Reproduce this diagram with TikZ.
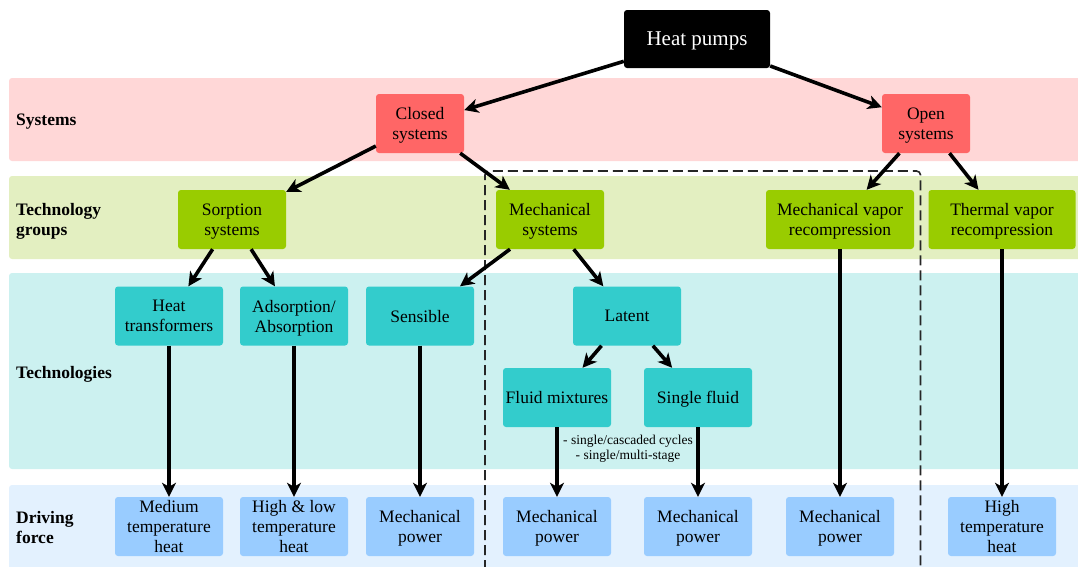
\documentclass[tikz,border=0pt]{standalone}
\usepackage{fontspec}
\setmainfont{Liberation Serif}
\usepackage{tikz}
\usetikzlibrary{arrows.meta}

\definecolor{sysred}{HTML}{FF6666}
\definecolor{grpgreen}{HTML}{99CC00}
\definecolor{techcyan}{HTML}{33CCCC}
\definecolor{forceblue}{HTML}{99CCFF}
\definecolor{sysband}{HTML}{FFD7D7}
\definecolor{grpband}{HTML}{E3EFC1}
\definecolor{techband}{HTML}{CCF1F0}
\definecolor{forceband}{HTML}{E3F1FE}

\tikzset{
  box/.style={rounded corners=3pt, minimum width=108pt, minimum height=59pt,
    align=center, inner sep=2pt, text depth=0pt, font=\fontsize{17.5}{20}\selectfont},
  sysbox/.style={box, fill=sysred, minimum width=88pt},
  grpbox/.style={box, fill=grpgreen},
  techbox/.style={box, fill=techcyan},
  forcebox/.style={box, fill=forceblue},
  rowlabel/.style={anchor=west, align=left, inner sep=0pt, text depth=0pt,
    font=\fontsize{17.5}{20}\selectfont\bfseries},
  arr/.style={-{Stealth[length=14pt,width=14pt,inset=4pt]}, line width=3.6pt},
}

\begin{document}
\begin{tikzpicture}[x=1pt, y=-1pt]
  \useasboundingbox (0,0) rectangle (1078,566);
  % bands
  \fill[sysband, rounded corners=3pt] (9,78) rectangle (1085,161);
  \fill[grpband, rounded corners=3pt] (9,176) rectangle (1085,259);
  \fill[techband, rounded corners=3pt] (9,273) rectangle (1085,469);
  \fill[forceband, rounded corners=3pt] (9,485) rectangle (1085,572);

  \node[rowlabel] (lsys) at (16,120) {Systems};
  \node[rowlabel] (lgrp) at (16,219) {Technology\\groups};
  \node[rowlabel] (ltech) at (16,372) {Technologies};
  \node[rowlabel] (lforce) at (16,527.5) {Driving\\force};

  % mechanical frame
  \draw[black!85, line width=1.6pt, dash pattern=on 10pt off 5pt, rounded corners=4pt]
    (485,570) -- (485,171) -- (920.5,171) -- (920.5,570);

  \node[box, fill=black, text=white, minimum width=146pt, minimum height=58pt,
    font=\fontsize{21}{24}\selectfont] (hp) at (697,39) {Heat pumps};

  \node[sysbox] (closed) at (420,123.5) {Closed\\systems};
  \node[sysbox] (open) at (926,123.5) {Open\\systems};

  \node[grpbox] (sorp) at (232,219.5) {Sorption\\systems};
  \node[grpbox] (mech) at (550,219.5) {Mechanical\\systems};
  \node[grpbox, minimum width=148pt] (mvr) at (840,219.5) {Mechanical vapor\\recompression};
  \node[grpbox, minimum width=147pt] (tvr) at (1002,219.5) {Thermal vapor\\recompression};

  \node[techbox] (ht) at (169,316) {Heat\\transformers};
  \node[techbox] (ads) at (294,316) {Adsorption/\\Absorption};
  \node[techbox] (sens) at (420,316) {Sensible};
  \node[techbox] (lat) at (627,316) {Latent};
  \node[techbox] (fmix) at (557,397.5) {Fluid mixtures};
  \node[techbox] (sfl) at (698,397.5) {Single fluid};

  \node[align=center, inner sep=0pt, font=\fontsize{13.5}{15}\selectfont] (cyc) at (628,449)
    {- single/cascaded cycles\\- single/multi-stage};

  \node[forcebox] (dmed) at (169,526.5) {Medium\\temperature\\heat};
  \node[forcebox] (dhl) at (294,526.5) {High \& low\\temperature\\heat};
  \node[forcebox] (dsens) at (420,526.5) {Mechanical\\power};
  \node[forcebox] (dfmix) at (557,526.5) {Mechanical\\power};
  \node[forcebox] (dsfl) at (698,526.5) {Mechanical\\power};
  \node[forcebox] (dmvr) at (840,526.5) {Mechanical\\power};
  \node[forcebox] (dtvr) at (1002,526.5) {High\\temperature\\heat};

  \path[arr]
  (hp) edge (closed)
       edge (open)
  (closed) edge (sorp)
           edge (mech)
  (open) edge (mvr)
         edge (tvr)
  (sorp) edge (ht)
         edge (ads)
  (mech) edge (sens)
         edge (lat)
  (lat) edge (fmix)
        edge (sfl)
  (ht) edge (dmed)
  (ads) edge (dhl)
  (sens) edge (dsens)
  (fmix) edge (dfmix)
  (sfl) edge (dsfl)
  (mvr) edge (dmvr)
  (tvr) edge (dtvr)
  ;
\end{tikzpicture}
\end{document}
